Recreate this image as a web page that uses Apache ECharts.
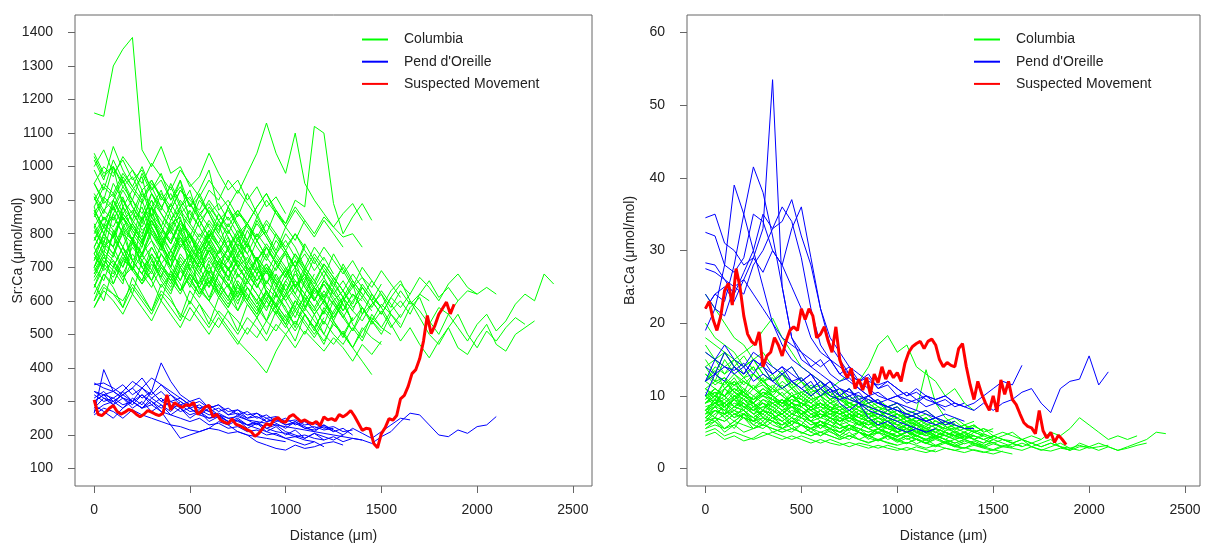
<!DOCTYPE html>
<html>
<head>
<meta charset="utf-8" />
<title>Sr:Ca and Ba:Ca profiles</title>
<style>
	html, body { margin: 0; padding: 0; background: #fff; }
	#chart { width: 1206px; height: 548px; }
</style>
</head>
<body>
<div id="chart"></div>
<script src="https://cdn.jsdelivr.net/npm/echarts@6/dist/echarts.min.js"></script>
<script>
// distance between samples (um)
const stepFish = 50;
const stepMove = 20;

const distTicks = [0, 500, 1000, 1500, 2000, 2500];
const srTicks = [100, 200, 300, 400, 500, 600, 700, 800, 900, 1000, 1100, 1200, 1300, 1400];
const baTicks = [0, 10, 20, 30, 40, 50, 60];

// Columbia fish, Sr:Ca
const srColumbia = [
	[700,760,730,810,780,740,820,770,720,790,750,700,760,690,730,680,650,700,640,610,660,620,580,630,600,560,610,570,540,590,620,560,520,580,610,540,500,560,520,480,530,560,510,540,590,620,600,680,650],
	[620,680,650,720,700,660,740,690,650,710,670,620,680,640,600,650,610,570,620,580,540,600,560,520,570,600,550,510,560,620,580,530,480,520,470,430,480,520,460,440,490,530,470,450,500,520,540],
	[580,640,620,600,650,610,570,630,600,560,540,590,550,520,570,540,500,550,600,560,620,650,600,640,590,550,600,640,670,620,580,630,660,600,550,500,470,520,560,500,460,510,480,520,550,530],
	[760,820,790,850,810,770,830,800,750,790,740,700,750,710,670,720,680,640,690,650,600,640,610,570,620,590,550,600,640,600,560,610,650,620,670,640,600,650,680,640,620],
	[850,900,870,930,880,840,900,860,820,870,830,790,840,800,760,810,770,720,760,710,670,720,680,640,690,650,610,660,620,580,630,590,550,600,570,530,580,560,600],
	[1040,980,1000,950,990,930,960,900,940,880,910,860,890,840,870,820,780,830,790,740,780,730,690,740,700,660,700,650,610,660,620,580,630,590,620,600],
	[900,950,920,980,940,900,960,910,870,930,890,850,900,860,820,870,830,790,840,800,760,800,750,710,760,720,680,720,670,640,690,650,610],
	[780,830,800,860,820,780,840,790,750,810,760,720,770,730,690,740,700,660,710,670,630,680,640,600,650,610,570,620,580,540,590,560],
	[600,650,620,580,640,600,560,620,580,540,600,560,520,570,540,500,550,520,480,530,500,460,510,480,450,490,460,420,470,440,480],
	[820,870,840,900,860,820,880,840,800,860,820,780,830,790,750,800,760,720,770,730,690,740,700,660,710,670,630,680,640,600,650],
	[720,770,740,700,760,720,680,740,700,660,720,680,640,690,650,610,660,620,580,620,570,530,580,540,500,470,510,460,420,380],
	[860,910,880,940,900,860,920,880,840,900,860,820,880,840,800,860,830,880,920,870,830,880,840,800,850,820,860,890,840],
	[880,940,910,970,930,890,950,910,870,930,900,870,930,900,960,920,980,1040,1130,1040,980,1100,950,900,860,820,790,800,760],
	[680,730,700,760,720,680,740,700,660,720,680,640,690,650,610,660,620,580,630,590,550,600,560,520,570,530,500,550],
	[950,1000,970,1030,990,950,1010,970,930,990,950,910,960,920,880,930,890,850,900,860,820,870,830,790,840,800,760],
	[740,790,760,820,780,740,800,760,720,780,740,700,750,710,670,720,680,640,690,650,610,660,620,580,630,590,550],
	[800,850,820,880,840,800,860,820,780,840,800,760,810,770,730,780,830,880,920,860,830,900,880,1120,1100,890,800,850,890,840],
	[660,710,680,740,700,660,720,680,640,700,660,620,670,630,590,640,600,560,610,570,530,580,540,500,550],
	[700,750,720,680,740,700,660,710,670,630,680,640,600,560,520,480,450,420,385,450,500,540,500,560,600],
	[1000,1050,980,1020,960,990,930,960,900,940,880,910,860,890,840,870,820,780,830,790,750,800,760],
	[1160,1150,1300,1350,1385,1050,1000,1060,980,1000,940,970,1040,980,930,960,900,940,880,910,860],
	[580,630,600,560,620,580,540,600,560,520,580,540,500,550,510,470,520,490,540,510,560],
	[1030,970,1000,940,970,910,940,880,920,860,890,840,870,820,850,800,830,780,810],
	[760,820,790,860,820,780,850,810,770,830,790,750,800,760,720,770,740],
	[920,870,900,840,870,810,840,780,810,760,790,740,770,720,750,700,730,680,710,660,690,640,670,620,650,600,630,580,610,570],
	[640,700,670,730,690,650,710,670,630,690,650,610,660,620,580,630,590,550,600,560,520,570,530,490,540,500,470,520,480,540,510],
	[740,690,720,670,700,650,690,640,680,630,670,620,660,610,650,600,640,590,630,580,620,570,610,560,600,550,590,540,580,530,570,520,560],
	[810,760,790,740,770,720,760,710,750,700,740,690,730,680,720,670,710,660,700,650,690,640,680,630,670,620,660,610],
	[690,740,710,660,720,680,640,700,660,620,680,640,600,650,610,570,620,580,540,590,550,510,560,520,480,530,500,460,510,550,520,570,600,560,620,660,610,640,600,630,620,640,620],
	[870,820,850,800,830,780,820,770,810,760,800,750,790,740,780,730,770,720,760,710,750,700,740,690,730,680],
	[730,700,810,760,690,850,780,740,700,820,690,760,650,720,700,610,680,730,620,590,660,700,580,640,610,540,600,650,560,590],
	[880,800,860,910,830,790,880,760,830,850,740,800,770,700,760,800,690,720,650,700,740,640,680,600,660,620,590],
	[640,720,690,650,780,700,730,660,620,700,740,630,600,680,650,570,640,600,540,620,580,520,600,560,500,570,610,530,490,560,520,500],
	[950,900,1000,880,930,970,850,920,880,960,830,900,860,800,880,820,760,840,790,740,800,760,700,760,720],
	[700,780,740,820,720,760,840,780,700,760,800,720,680,750,790,700,660,730,690,620,680,720,640,600,660,630,570,620,600],
	[790,740,860,800,770,900,820,760,840,880,770,720,800,760,690,740,780,700,650,720,680,620,690,640,600,660,610,570,640,600,560,610,580,620],
	[1020,960,1060,990,940,1000,930,980,900,960,880,930,990,870,900,850,920,860,800,870,820,780,840],
	[650,600,700,680,620,720,660,600,690,650,590,660,710,620,580,650,600,560,630,580,530,600,560,510,580,540,490,550],
	[830,770,900,850,800,760,880,820,770,840,800,730,790,830,750,700,770,720,680,740,700,640,700,660,610,670,630,590,650,610,580],
	[910,860,950,900,840,920,880,820,890,840,790,860,820,770,830,780,740,800,760,720],
	[760,700,800,740,690,780,720,670,750,700,640,720,680,620,700,650,600,680,630,580,650,610,570,640,600,560],
	[870,820,900,960,880,830,920,860,810,880,930,840,790,860,810,760,830,780,730,800,750,700,770,720,670,740,690,640,700,660],
	[680,740,650,720,790,700,660,740,690,630,710,670,610,680,640,590,660,620,570,640,600,550,620,580,530,600,560,510,580,540,500,560,530],
	[990,930,1020,960,900,980,920,870,950,890,840,920,860,810,880,830,780,850,800,750,820],
	[720,800,760,700,790,740,690,770,720,660,740,700,640,720,670,620,700,650,600,680,630,580,660,610,560,640,590,540],
	[600,680,640,580,670,620,570,650,610,550,630,590,530,610,570,510,590,550,500,570,530,480,560,520,470,540,500,460,520,490,470],
	[780,850,810,760,830,880,800,750,820,790,720,780,740,690,760,710,660,730,690,640,700,660,620,680],
	[700,660,740,800,720,680,760,710,660,730,690,640,700,660,610,680,640,600,660,620,580],
	[860,800,880,830,780,850,900,820,770,840,790,740,810,760,720,790,740,690,760,710,670,740,690,650,710,670,630],
	[740,800,760,880,810,770,840,790,730,800,760,710,780,730,690,760,720,680,740],
	[820,760,790,850,780,730,810,760,700,770,730,680,750,710,660,730,690,640,700,660,620,690,650,600,660],
	[910,840,880,820,860,930,850,800,870,820,770,840,790,740,810,760,710,780,730,690,750,700,660,730,690,640,710,660,620],
	[670,730,700,760,690,740,780,710,670,740,700,650,720,680,640,700,660],
	[950,890,920,860,900,840,880,930,850,800,870,820,770,840,790,740,810,760,720,780,740,700,760]
];

// Columbia fish, Ba:Ca
const baColumbia = [
	[8,9.5,8.5,10,9,8,9.5,8.5,7.5,9,8,7,8,7,6.5,7.5,6.5,6,7,6,5.5,6,5,4.5,5.5,5,4.5,5,4,3.5,4.5,4,3.5,4,3,3.5,4,3,2.5,3.5,3,2.5,3,2.5,3,3.5,4,5,4.8],
	[6,7,6.5,7.5,7,6.5,7,6,5.5,6.5,6,5.5,6,5,4.5,5.5,5,4.5,5,4,4.5,5,4,3.5,4.5,4,3.5,4,3.5,3,4,3.5,3,3.5,3,2.5,3,3.5,2.8,2.5,3,3.5,3,2.5,2.8,3.2,3.5],
	[10,11,10,12,11,10,11,10,9,10,9,8,9,8,7.5,8,7,6.5,7,6,5.5,6,5,5.5,4.5,5,4.5,4,5,4.5,4,4.5,5,4,3.5,4,5,4.5,5.5,7,6,5,4,4.5,4,4.5],
	[12,13,12,11.5,12.5,11,10,11,10,9,10,9,8,9,8,7,8,7,6,7,6,5.5,6,5,4.5,5,4.5,4,4.5,4,3.5,4,3.5,3,3.5,3,3.5,3,2.5,3,3],
	[7,8,7.5,6.5,7.5,7,6,7,6.5,5.5,6,5.5,5,5.5,5,4.5,5,4.5,4,4.5,4,3.5,4,3.5,3,3.5,3,2.8,3.2,2.8,2.5,3,2.8,2.5,3,2.6,2.4,2.8,2.6],
	[16,15,14,15,13,14,12,13,11,12,11,10,11,9.5,10,9,8.5,9,8,7.5,8,7,6.5,7,6,6.5,5.5,6,5,5.5,4.5,5,4.5,4,4.5,4],
	[9,10,9.5,11,10,9,10.5,9.5,8.5,9.5,9,8,9,8,7.5,8,7,6.5,7,6.5,6,6.5,5.5,5,5.5,5,4.5,5,4.5,4,4.5,4,3.8],
	[5,5.5,4.5,5,4.5,4,4.5,5,4.5,4,4.5,4,3.5,4,3.5,3,3.5,3.2,2.8,3.2,2.8,2.5,3,2.6,2.3,2.8,2.5,2.2,2.6,2.3,2,2.4],
	[20,18,17,16,14,15,13,12,13,11,12,10,11,9.5,10,9,8.5,9,8,7,7.5,7,6.5,7,6,5.5,6,5.5,5,5.5,5],
	[8.5,9,8,9.5,8.5,8,9,8,7.5,8.5,8,7,7.5,7,6.5,7,6.5,6,6.5,5.5,5,5.5,5,4.5,5,4.5,4,4.5,4,3.5,4],
	[11,12,11.5,13,12,11,12,11,10,11,10,9,10,9,8.5,9,8,7.5,8,7,6.5,7,6,5.5,6,5.5,5,5.5,5,4.5],
	[9,10,9,10.5,9.5,9,10,9.5,9,10,9.5,9,10,11,12,13,12,14,17,18.3,16,17,14,13,12,10,11,9,8],
	[12,14,13,15,16,17,19,20.7,18,16,14,13,12,11,10,11,9.5,10,9,8.5,9,8,7.5,8,7,6.5,7,6,6.5],
	[6.5,7,6.5,7.5,7,6,7,6.5,6,6.5,6,5.5,6,5.5,5,5.5,5,4.5,5,4.5,4,4.5,4,3.5,4,3.5,3,3.5],
	[24,22,20,18,17,15,16,14,13,14,12,11,12,10,11,9.5,9,9.5,8.5,8,8.5,7.5,7,7.5,6.5,6,6.5],
	[8,8.5,8,9,8.5,7.5,8.5,8,7,8,7.5,6.5,7,6.5,6,6.5,6,5.5,6,5.5,5,5.5,4.5,4,4.5,4,3.5],
	[10,10.5,10,11,10.5,9.5,10.5,10,9,10,9.5,8.5,9,8.5,8,8.5,8,7.5,8,7.5,7,7.5,8,13.6,9,7,6,5.5,6,5],
	[7.5,8,7.5,8.5,8,7,8,7.5,6.5,7.5,7,6,6.5,6,5.5,6,5.5,5,5.5,5,4.5,5,4.5,4,4.5],
	[4.5,5,4,4.5,3.8,4.2,5,4.5,4,4.5,4,3.5,4,3.5,3.2,3.6,3.2,2.8,3.2,2.8,2.5,2.9,2.5,2.2,2.6],
	[14,15,13,14,12.5,13,12,12.5,11,12,10.5,11,10,10.5,9.5,9,9.5,8.5,8,8.5,7.5,7,7.5],
	[18,17,16,15,14,15,13,12,13,11,12,10.5,11,10,9.5,10,9,8.5,9,8,8.5],
	[6,6.5,5.5,6,5,5.5,6,5.5,5,5.5,5,4.5,5,4.5,4,4.5,4,3.5,4,3.5,3.2],
	[11,10,11,10,10.5,9.5,10,9,9.5,8.5,9,8,8.5,7.5,8,7,7.5,6.5,7],
	[9,9.5,9,10,9.5,8.5,9.5,9,8,9,8.5,7.5,8,7.5,7,7.5,7],
	[7,8,7.5,8.5,8,7,8,7.5,6.5,7.5,7,6,6.5,6,5.5,6,5.5,5,5.5,5,4.5,5,4.5,4,4.5,4,3.5,4,3.5,3.2],
	[13,12,12.5,11.5,12,11,11.5,10.5,11,10,10.5,9.5,10,9,9.5,8.5,9,8,8.5,7.5,8,7,7.5,6.5,7,6,6.5,5.5,6,5,5.5],
	[5.5,6,5.5,6.5,6,5.5,6,5.5,5,5.5,5,4.5,5,4.5,4,4.5,4,3.6,4,3.6,3.2,3.6,3.2,2.8,3.2,2.8,2.5,2.9,2.5,2.2,2.6,2.3,2],
	[10,9,9.5,8.5,9,8,8.5,9,8,8.5,7.5,8,7,7.5,6.5,7,6,6.5,5.5,6,5,5.5,4.5,5,4.2,4.6,4,4.4],
	[8,9,8.5,9.5,9,8,9,8.5,7.5,8.5,8,7,7.5,7,6.5,7,6.5,6,6.5,6,5.5,6,5.5,5,5.5,5,4.5,5,4.5,4,4.5,4,3.5,4,3.5,3,3.5,3,2.8,3.2,2.8,3,3.2],
	[9.5,10.5,10,11,10,9.5,10.5,10,9,9.5,9,8.5,9,8,7.5,8,7.5,7,7.5,6.5,6,6.5,6,5.5,6,5.5],
	[8,9.5,7.5,10,8.5,9,7,8.5,9.5,7.5,8,6.5,8,7,6,7.5,6.5,5.5,6.5,5.5,5,6,4.8,5.3,4.5,5,4.2,4.8,4,4.5],
	[11,9.5,12,10.5,9.5,11,12.5,10,9,10.5,8.5,9.5,10,8,8.5,7.5,8.5,7,7.5,6.5,7,6,6.5,5.5,6,5.2,5.6],
	[6.5,8,7,5.5,7.5,6.5,6,7.5,5.5,6.5,6,5,6,5.5,4.5,5.5,5,4,5,4.5,3.8,4.5,4,3.4,4.2,3.6,3.2,3.8,3.3,2.9,3.4,3],
	[14,12,15,13,11.5,13,12,10.5,12,11,9.5,11,10,9,10,8.5,9,8,7,8,7.5,6.5,7,6,6.5],
	[9,10.5,8.5,9.5,11,9,8,10,8.5,9,7.5,8.5,7,8,6.5,7.5,6,7,5.5,6.5,5.5,5,6,4.8,5.4,4.5,5,4.2,4.6],
	[7,8.5,9,7.5,8,6.5,8,7,7.5,6,7,6.5,5.5,6.5,5.5,6,5,4.5,5.5,4.5,5,4,4.5,3.8,4.3,3.6,4,3.4,3.8,3.2,3.6,3,3.4,3.1],
	[12,13.5,11,12.5,10.5,13,11.5,10,11.5,10,9,10.5,9,8,9.5,8.5,7.5,8.5,7.5,7,7.5,6.5,7],
	[5.5,6.5,5,6,7,5.5,6.5,5,5.5,6,4.8,5.5,4.5,5.2,4.2,5,4,4.6,3.8,4.4,3.6,4.2,3.4,4,3.2,3.7,3,3.5],
	[10,8.5,11,9.5,8,10,9,7.5,9,8.5,7,8.5,7.5,6.5,7.5,7,6,7,6,5.5,6.5,5.5,5,5.8,5,4.5,5.2,4.5,4,4.8,4.2],
	[15,13,16,14,12.5,14,12,11,13,11.5,10,11.5,10.5,9.5,10.5,9,8.5,9.5,8.5,8],
	[7.5,9,8,7,8.5,7.5,6.5,8,7,6,7.5,6.5,5.5,7,6,5.2,6.3,5.5,4.8,5.8,5,4.4,5.3,4.6,4.1,4.8],
	[13,11.5,12.5,10.5,12,11,10,11.5,10,9,10.5,9.5,8.5,9.5,8.5,7.5,8.5,7.5,7,8,7,6.2,7,6.2,5.6,6.4,5.6,5,5.8,5.2],
	[6,7,5.5,6.5,7.5,6,5.5,6.5,5.5,5,6,5,4.5,5.5,4.5,4,5,4.2,3.8,4.6,3.8,3.4,4.2,3.5,3.1,3.8,3.2,2.8,3.5,3,2.6,3.2,2.9],
	[17,15,16,14,15.5,13.5,14,12,13.5,11.5,12.5,11,11.5,10,11,9.5,10,9,9.5,8.5,9],
	[8,7,9,8,7.5,8.5,7,6.5,8,7,6,7.5,6.5,5.5,7,6,5.2,6.4,5.5,4.8,5.8,5,4.4,5.3,4.6,4,4.8,4.2],
	[9.5,11,10,8.5,10,9,8,9.5,8.5,7.5,9,8,7,8.5,7.5,6.5,7.5,6.5,6,7,6,5.5,6.3,5.5,5,5.8,5,4.5,5.3,4.7,4.3],
	[9,10,8.5,9.5,10.5,8.5,9,8,9.5,8.5,7.5,8.5,7.5,7,8,7,6.5,7.5,6.5,6,7,6,5.5,6.5],
	[7.5,8.5,7,8,9,7.5,8,7,7.5,6.5,7.5,6.5,6,7,6,5.5,6.5,5.5,5,6,5.2],
	[11,10,12,10.5,10,11.5,10,9.5,10.5,9,8.5,10,8.5,8,9,7.5,7,8,7,6.5,7.5,6.5,6,7,6,5.5,6.2],
	[8,9,10,8.5,9.5,8,7.5,9,8,7,8.5,7.5,7,8,7,6.5,7.5,6.5,7],
	[6.5,7.5,8.5,7,7.5,6.5,8,7,6,7,6.5,5.5,6.5,6,5,6,5.5,4.5,5.5,5,4.3,5.2,4.6,4,4.8],
	[10.5,9,11,12,10,9,10.5,9.5,8.5,10,9,8,9,8,7.5,8.5,7.5,7,8,7,6.5,7.2,6.3,5.8,6.6,5.8,5.3,6,5.4],
	[12,11,10,11.5,10.5,9.5,11,10,9,10,9,8.5,9.5,8.5,8,9,8.5],
	[7,6.5,7.5,8,7,6.5,7.5,6.5,6,7,6,5.5,6.5,5.5,5,6,5,4.6,5.5,4.8,4.3,5,4.5]
];

// Pend d'Oreille fish, Sr:Ca
const srPend = [
	[300,320,290,310,280,300,270,290,260,280,250,270,240,255,230,245,220,235,210,225,200,215,190,205,185,195,180,190,185,175,195,210,240,265,260,230,200,195,215,205,225,230,255],
	[280,310,290,330,300,280,310,290,270,300,280,260,280,260,240,260,245,230,250,235,220,240,225,210,230,215,200,220,205,190,210,230,250,245],
	[350,355,340,320,340,310,330,300,320,290,300,280,290,270,280,260,270,250,260,240,250,230,240,220,230,210,220,200],
	[265,395,330,310,290,320,300,280,300,280,260,270,250,260,240,250,230,240,220,230,210,200,190,205,195,185,200],
	[310,330,300,320,340,370,330,415,360,320,300,310,280,290,260,275,250,265,240,250,230,240,220,215,225,210],
	[290,270,250,280,300,340,320,350,330,310,290,280,270,260,250,240,230,220,210,200,190,180,170,180,165],
	[330,320,310,330,360,340,370,350,320,300,280,290,270,280,260,265,250,255,240,245,230,235,220,225,215,220],
	[330,310,300,320,300,280,300,270,230,190,200,210,220,240,230,210,200,180,170,160,155,170,160,165,175,180,170],
	[320,300,310,290,300,280,290,270,260,250,240,250,230,235,220,225,210,215,200,205,190,195,185,180],
	[355,340,330,350,320,340,310,330,300,310,290,300,280,290,270,275,260,265,250,255,240,245,230,235,220,225,210,215],
	[270,290,300,280,310,290,330,300,290,270,280,260,250,255,240,245,230,235,220,210,205,195,200,190,185],
	[260,280,270,250,275,260,250,240,230,225,215,210,220,215,205,210,200,195,190,185,180],
	[300,320,330,310,300,320,290,310,280,290,270,275,260,265,250,255,245,240,235,230,225,220,215,210,205,200,195,190,185]
];

// Pend d'Oreille fish, Ba:Ca
const baPend = [
	[12,13,14,13,14,12,13,12,11,12,11,10,11,10,9.5,10,9,10,9,9.5,10,9.5,9,10,9.5,10,9,8.5,8,9,8,9,9.5,10.5,11,9,7.7,11,12,12.3,15.5,11.5,13.3],
	[22,24,25,23,26,24,22,20,18,17,16,15,14,15,13,14,12,13,11,12,11,10,11,10,9.5,10,9,8.5,9,10,11,12,11.5,14.2],
	[34.5,35,31,30,28,29,27,30,28,25,22,18,16,15,14,13,12,12.5,11,11.5,10,10.5,9.5,10,9,9.5,8.5,9],
	[32.5,32,28,27,29,35,34,30,28,33,36,29,22,18,16,14,13,12,11.5,12,11,10,10.5,9.5,9,8.5,9],
	[24,22,21,25,26,29,33,53.5,25,18,16,14,15,13,12,12.5,11,10,10.5,9.5,10,9,9.5,8.5,9,8],
	[28.3,28,26,24,27,30,35,33,36,34,29,22,17,15,13,12,11,10,9,8.5,8,7.5,7,6.5,7],
	[12,15,14,13.5,14.5,13,15,14,13,14,12,13,11,12,10,11,9.5,10,9,8.5,9,8,7.5,8,7,6.5],
	[10,13,16,14,13,15,14,13,14,12,12.5,11,12,10.5,11,10,10.5,9,9.5,8,8.5,7,7.5,6.5,7,6,6.5],
	[14,13,12,14,13,15,14,12,13,12,11,12,10,11,9,8,9,7,6,6.5,5.5,5,5.5,5],
	[27.5,27,26,25,24,28,30,33,34,37,32,28,22,17,15,13,12,11,10,9.5,9,8.5,8,7.5,7,7.5,7,6.5],
	[16,15,17,15,14,16,15,13,14,13,12,13,11,12,10,11,9,8,7.5,7,6.5,6,5.5,5,5.5],
	[19,22,28,39,35,30,25,20,17,15,14,13,12,11,10,9.5,9,8.5,8,7.5,7],
	[22,24,23,28,35,41.5,38,32,25,18,15,14,13,12,11,10.5,10,9.5,9,8.5,8,7.5,7,6.5,6,6.5,6,5.5,5.5]
];

// suspected movement fish
const srMove = [305,262,258,268,280,288,270,262,268,276,272,262,254,262,273,268,262,258,265,320,275,296,288,282,290,288,297,262,270,284,288,254,262,245,238,234,248,232,228,222,215,210,196,205,220,234,228,246,252,240,238,255,261,250,240,245,238,233,240,228,254,245,249,243,261,254,262,273,256,235,214,220,218,175,162,204,222,249,244,258,308,318,345,383,395,427,480,556,502,527,560,578,596,561,590];
const baMove = [22,23,20.5,19,21,24.5,25.5,22.5,27.5,25,21,18.5,17.5,17,18.8,14,15.5,16,18,17,15.5,17.5,19,19.5,19,22,20.5,22,21,18,18.5,19.5,17.5,16,19.5,15,13.5,12.5,13.8,11,12.3,10.8,12.5,10.2,13,11.8,14,12.3,13.5,12.5,13.2,12,14.5,16,16.8,17.2,17.5,16.5,17.5,17.8,17,15,14,14.6,14.2,14,16.5,17.2,14,11.5,9.5,12,10.3,9,8,10,7.8,12.2,10.2,12,9.5,8.8,7.5,6.3,5.8,5.6,4.8,8,5.2,4.2,5,3.6,4.6,4,3.3];

const FONT = "'Liberation Sans', Arial, sans-serif";
const names = ["Columbia", "Pend d'Oreille", "Suspected Movement"];
const colors = ["#00ff00", "#0000ff", "#ff0000"];

function lineSeries(values, step, nameIdx, width, gridIdx, z) {
	return {
		name: names[nameIdx],
		type: "line",
		xAxisIndex: gridIdx,
		yAxisIndex: gridIdx,
		data: values.map(function (v, i) { return [i * step, v]; }),
		symbol: "none",
		silent: true,
		z: z,
		color: colors[nameIdx],
		lineStyle: { color: colors[nameIdx], width: width }
	};
}

const series = [];
[srColumbia, baColumbia].forEach(function (list, g) {
	list.forEach(function (v) { series.push(lineSeries(v, stepFish, 0, 1, g, 2)); });
});
[srPend, baPend].forEach(function (list, g) {
	list.forEach(function (v) { series.push(lineSeries(v, stepFish, 1, 1, g, 3)); });
});
series.push(lineSeries(srMove, stepMove, 2, 3, 0, 4));
series.push(lineSeries(baMove, stepMove, 2, 3, 1, 4));

function plain(v) { return String(v); }

function xAxisOf(gridIdx, min, max) {
	return {
		type: "value", gridIndex: gridIdx, min: min, max: max,
		name: "Distance (\u03bcm)", nameLocation: "middle", nameGap: 43, nameMoveOverlap: false,
		nameTextStyle: { fontFamily: FONT, fontSize: 14, color: "#222" },
		axisLine: { show: false, onZero: false },
		splitLine: { show: false },
		axisTick: { show: true, inside: false, length: 7, customValues: distTicks, lineStyle: { color: "#666" } },
		axisLabel: { customValues: distTicks, formatter: plain, margin: 17, fontFamily: FONT, fontSize: 14, color: "#222" }
	};
}
function yAxisOf(gridIdx, min, max, ticks, title) {
	return {
		type: "value", gridIndex: gridIdx, min: min, max: max,
		name: title, nameLocation: "middle", nameGap: 50, nameMoveOverlap: false,
		nameTextStyle: { fontFamily: FONT, fontSize: 14, color: "#222" },
		axisLine: { show: false, onZero: false },
		splitLine: { show: false },
		axisTick: { show: true, inside: false, length: 7, customValues: ticks, lineStyle: { color: "#666" } },
		axisLabel: { customValues: ticks, formatter: plain, margin: 22, fontFamily: FONT, fontSize: 14, color: "#222" }
	};
}

// one legend per row so the rows sit exactly where they should
const legends = [];
[362, 974].forEach(function (left) {
	names.forEach(function (n, i) {
		legends.push({
			data: [n], left: left, top: 32.5 + i * 22.2, padding: 0,
			icon: "rect", itemWidth: 26, itemHeight: 2, selectedMode: false,
			textStyle: { fontFamily: FONT, fontSize: 14, color: "#222", padding: [0, 0, 0, 11] }
		});
	});
});

const chart = echarts.init(document.getElementById("chart"), null, { renderer: "canvas" });
chart.setOption({
	animation: false,
	backgroundColor: "#fff",
	legend: legends,
	grid: [
		{ left: 75, top: 15, width: 517, height: 472, show: true, borderColor: "#666", borderWidth: 1, backgroundColor: "transparent" },
		{ left: 687, top: 15, width: 513, height: 472, show: true, borderColor: "#666", borderWidth: 1, backgroundColor: "transparent" }
	],
	xAxis: [xAxisOf(0, -100, 2600), xAxisOf(1, -96, 2578)],
	yAxis: [
		yAxisOf(0, 48, 1452, srTicks, "Sr:Ca (\u03bcmol/mol)"),
		yAxisOf(1, -2.4, 62.4, baTicks, "Ba:Ca (\u03bcmol/mol)")
	],
	series: series
});
</script>
</body>
</html>
